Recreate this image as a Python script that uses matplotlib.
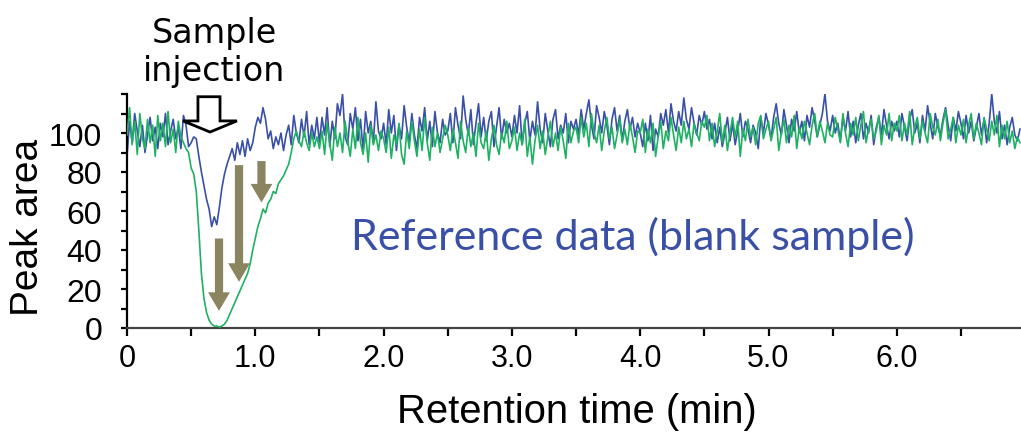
import numpy as np
import matplotlib
matplotlib.use("Agg")
import matplotlib.pyplot as plt
from matplotlib.patches import Polygon, FancyArrow

# Retention time axis: one reading every 0.02 min
time_step = 0.02

# Peak area readings, blank sample (blue trace)
blank_area = [
    88, 106, 95, 110, 101, 93, 104, 90, 99, 108, 96, 103, 92, 105, 98, 110, 94, 101, 107, 97, 103, 92, 109, 104, 93,
    95, 98, 97, 88, 80, 73, 66, 61, 52, 57, 53, 62, 72, 79, 84, 88, 92, 86, 95, 89, 96, 88, 97, 91, 95,
    103, 108, 105, 113, 107, 97, 101, 92, 98, 94, 100, 91, 99, 104, 94, 109, 100, 95, 107, 98, 111, 94, 104, 97, 108,
    95, 108, 99, 113, 93, 106, 97, 115, 109, 120, 98, 94, 110, 102, 113, 96, 107, 91, 111, 100, 106, 95, 116, 101, 97,
    105, 94, 112, 100, 109, 91, 104, 97, 114, 103, 95, 110, 99, 92, 108, 101, 113, 96, 106, 93, 111, 100, 95, 107, 99,
    101, 110, 95, 113, 104, 97, 119, 107, 99, 112, 94, 105, 115, 98, 108, 96, 106, 111, 93, 103, 113, 97, 107, 100, 105,
    98, 109, 100, 114, 94, 105, 111, 96, 106, 99, 116, 102, 95, 110, 101, 93, 107, 112, 97, 104, 100, 110, 95, 106, 102,
    107, 99, 112, 102, 110, 117, 104, 97, 114, 108, 100, 111, 104, 94, 107, 113, 101, 109, 96, 106, 112, 102, 108, 98, 105,
    100, 93, 105, 96, 109, 91, 102, 98, 110, 104, 112, 100, 115, 106, 101, 111, 104, 118, 107, 102, 113, 105, 99, 109, 104,
    111, 102, 107, 97, 105, 95, 103, 93, 100, 108, 96, 105, 94, 101, 110, 98, 106, 102, 95, 104, 100, 92, 108, 100, 110,
    104, 97, 108, 115, 105, 99, 112, 104, 95, 107, 101, 111, 100, 106, 96, 109, 103, 113, 106, 98, 104, 110, 120, 106, 101,
    109, 100, 105, 96, 108, 101, 111, 98, 106, 95, 104, 110, 97, 105, 100, 109, 94, 103, 108, 99, 112, 104, 97, 106, 101,
    106, 98, 110, 103, 96, 107, 112, 100, 105, 95, 109, 101, 114, 105, 97, 110, 103, 99, 107, 113, 104, 96, 108, 101, 111,
    105, 97, 109, 100, 106, 96, 103, 110, 99, 107, 95, 105, 120, 106, 100, 111, 97, 104, 94, 103, 108, 99, 96, 102,
]

# Peak area readings after injection (green trace)
sample_area = [
    99, 113, 94, 106, 89, 110, 97, 92, 107, 95, 104, 88, 109, 96, 105, 93, 111, 95, 102, 90, 106, 98, 95, 92, 90,
    82, 79, 70, 50, 28, 15, 8, 4, 2, 1, 1, 0.5, 1, 2, 4, 7, 10, 13, 16, 19, 22, 25, 28, 33, 40,
    46, 52, 56, 61, 59, 64, 66, 70, 69, 74, 76, 78, 81, 84, 90, 97, 101, 96, 93, 101, 95, 91, 100, 93, 98,
    92, 101, 89, 105, 95, 86, 103, 93, 100, 90, 106, 96, 88, 102, 92, 108, 95, 89, 100, 85, 104, 94, 99, 91, 101,
    97, 90, 103, 87, 99, 94, 105, 89, 84, 101, 92, 106, 96, 88, 102, 91, 108, 95, 86, 103, 93, 100, 90, 97, 104,
    99, 91, 102, 95, 87, 106, 96, 90, 103, 93, 100, 88, 105, 95, 92, 101, 86, 97, 104, 94, 89, 100, 95, 106, 92,
    96, 103, 91, 100, 94, 107, 88, 98, 84, 96, 104, 92, 101, 89, 98, 106, 93, 100, 91, 103, 96, 87, 105, 95, 101,
    103, 95, 108, 98, 105, 93, 110, 100, 95, 104, 91, 101, 108, 97, 103, 92, 99, 107, 95, 102, 94, 105, 98, 90, 101,
    100, 107, 90, 102, 95, 105, 88, 98, 106, 92, 101, 96, 108, 99, 91, 103, 95, 106, 97, 102, 93, 105, 100, 96, 106,
    103, 109, 96, 105, 93, 101, 110, 95, 104, 91, 100, 108, 98, 106, 88, 102, 96, 107, 98, 103, 94, 105, 109, 97, 102,
    106, 96, 102, 108, 91, 100, 107, 95, 104, 98, 109, 92, 103, 97, 106, 100, 94, 104, 110, 98, 106, 101, 95, 105, 99,
    98, 108, 102, 95, 110, 100, 93, 105, 99, 108, 96, 104, 111, 95, 102, 107, 97, 101, 109, 94, 104, 99, 110, 96, 105,
    101, 109, 96, 105, 99, 111, 94, 103, 108, 97, 106, 100, 95, 110, 103, 99, 107, 96, 105, 112, 97, 102, 108, 95, 104,
    99, 107, 95, 104, 110, 97, 105, 100, 94, 108, 102, 96, 106, 99, 109, 93, 104, 97, 106, 95, 101, 92, 98, 95,
]

x_ticks = [0, 0.5, 1, 1.5, 2, 2.5, 3, 3.5, 4, 4.5, 5, 5.5, 6, 6.5]
x_tick_labels = ["0", "", "1.0", "", "2.0", "", "3.0", "", "4.0", "", "5.0", "", "6.0", ""]
y_ticks = [0, 10, 20, 30, 40, 50, 60, 70, 80, 90, 100, 110, 120]
y_tick_labels = ["0", "", "20", "", "40", "", "60", "", "80", "", "100", "", ""]

blue = "#3a50a6"
green = "#1fb163"
olive = "#8b8461"

t = np.arange(len(blank_area)) * time_step

W, H = 1021, 435
fig = plt.figure(figsize=(W / 100, H / 100), dpi=100)
ax = fig.add_axes([127 / W, 106 / H, 894 / W, 234 / H])

ax.plot(t, blank_area, color=blue, lw=1.2, zorder=2)
ax.plot(t, sample_area, color=green, lw=1.2, zorder=3)

ax.set_xlim(0, 6.968)
ax.set_ylim(0, 120)
for side in ("top", "right"):
    ax.spines[side].set_visible(False)
ax.spines["left"].set_linewidth(1.6)
ax.spines["left"].set_color("black")
ax.spines["bottom"].set_linewidth(1.6)
ax.spines["bottom"].set_color("#444444")

sans = ["Liberation Sans", "DejaVu Sans"]
ax.set_xticks(x_ticks)
ax.set_xticklabels(x_tick_labels, family=sans, size=22)
ax.set_yticks(y_ticks)
ax.set_yticklabels(y_tick_labels, family=sans, size=23)
ax.tick_params(axis="x", direction="out", length=6, width=1.6, pad=5)
ax.tick_params(axis="y", direction="out", length=4, width=1.6, pad=14)

fig.text(28 / W, 1 - 227 / H, "Peak area", rotation=90, ha="center", va="center",
         family=sans, size=28)
fig.text(577 / W, 1 - 412 / H, "Retention time (min)", ha="center", va="center",
         family=sans, size=28.8)

# Injection marker: hollow block arrow with caption
inj = Polygon([(0.553, 118.6), (0.725, 118.6), (0.725, 106.2), (0.857, 106.2),
               (0.647, 100.5), (0.436, 106.2), (0.553, 106.2)],
              closed=True, facecolor="white", edgecolor="black", lw=2.0,
              clip_on=False, zorder=5)
ax.add_patch(inj)
fig.text(214 / W, 1 - 33 / H, "Sample", ha="center", va="center",
         family=["DejaVu Sans"], size=24)
fig.text(214 / W, 1 - 72 / H, "injection", ha="center", va="center",
         family=["DejaVu Sans"], size=24)

# Decrease arrows over the green dip
for xa, y0, y1 in [(0.717, 45.9, 8.8), (0.873, 83.5, 23.7), (1.048, 85.6, 64.4)]:
    ax.add_patch(FancyArrow(xa, y0, 0, y1 - y0, width=0.064, head_width=0.17,
                            head_length=9.5, length_includes_head=True,
                            color=olive, lw=0, zorder=6))

ax.text(3.94, 47, "Reference data (blank sample)", color=blue, ha="center", va="center",
        family=["Lato", "DejaVu Sans"], size=31)

fig.savefig("out.png", dpi=100)
